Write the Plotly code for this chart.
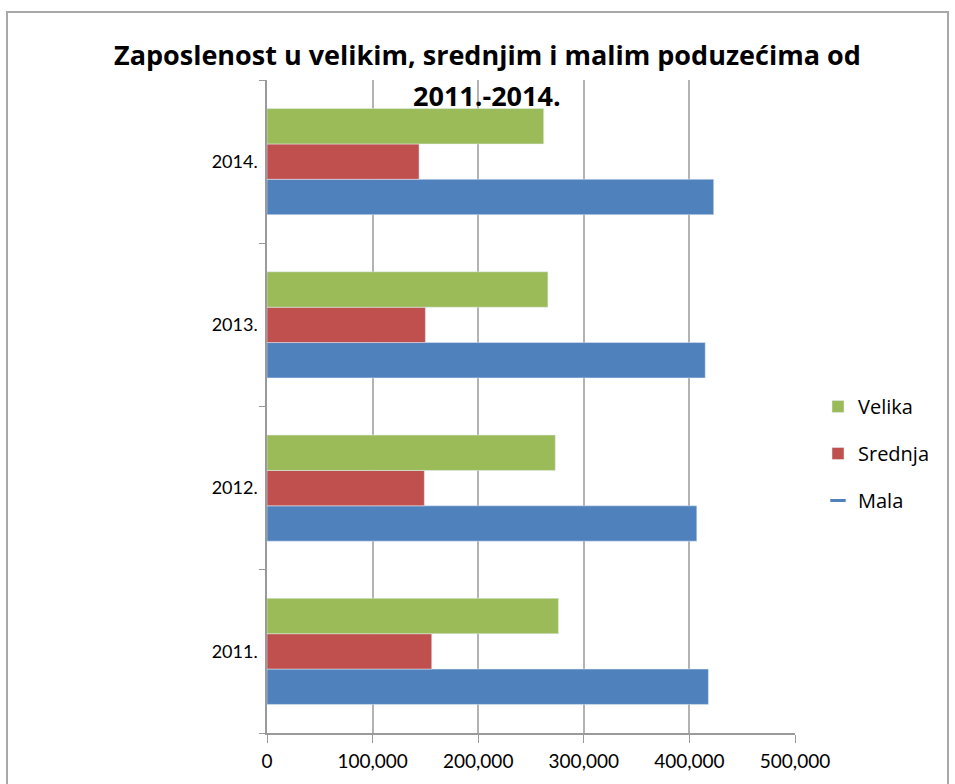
import plotly.graph_objects as go

years = ["2011.", "2012.", "2013.", "2014."]
mala = [418000, 407000, 415000, 423000]
srednja = [156000, 149000, 150000, 144000]
velika = [276000, 273000, 266000, 262000]
x_ticks = [0, 100000, 200000, 300000, 400000, 500000]
x_tick_labels = ["0", "100,000", "200,000", "300,000", "400,000", "500,000"]
title_line1 = "Zaposlenost u velikim, srednjim i malim poduzećima od"
title_line2 = "2011.-2014."

BLUE = "#4F81BD"
RED = "#C0504D"
GREEN = "#9BBB59"
FONT = "Lato, Open Sans, sans-serif"
TFONT = "Open Sans, Lato, sans-serif"

W, H = 955, 784
L, R, T, B = 267, 160, 80, 51
pw, ph = W - L - R, H - T - B

def px_x(p):
    return (p - L) / pw

def px_y(p):
    return (H - B - p) / ph

fig = go.Figure()
fig.add_trace(go.Bar(y=years, x=mala, name="Mala", orientation="h",
                     marker=dict(color=BLUE), showlegend=False))
fig.add_trace(go.Bar(y=years, x=srednja, name="Srednja", orientation="h",
                     marker=dict(color=RED), legendrank=2, legendgroup="s"))
fig.add_trace(go.Bar(y=years, x=velika, name="Velika", orientation="h",
                     marker=dict(color=GREEN), legendrank=1, legendgroup="v"))
# legend entry for "Mala" shown as a short dash (as in the original)
fig.add_trace(go.Scatter(x=[None], y=[None], mode="markers", name="Mala",
                         marker=dict(symbol="line-ew", size=11, color=BLUE,
                                     line=dict(color=BLUE, width=3)),
                         legendrank=3, legendgroup="m"))

fig.update_layout(
    width=W, height=H,
    margin=dict(l=L, r=R, t=T, b=B),
    paper_bgcolor="white", plot_bgcolor="white",
    barmode="group", bargap=0.35, bargroupgap=0,
    font=dict(family=FONT, size=18, color="black"),
    showlegend=True,
    legend=dict(x=px_x(818), y=px_y(387), xanchor="left", yanchor="top",
                font=dict(size=20, family=TFONT), tracegroupgap=18, itemwidth=30,
                bgcolor="rgba(0,0,0,0)"),
    xaxis=dict(range=[0, 500000], tickvals=x_ticks, ticktext=x_tick_labels,
               showgrid=True, gridcolor="#B3B3B3", gridwidth=1.5,
               showline=True, linecolor="#9A9A9A", linewidth=1.5,
               ticks="outside", ticklen=8, tickcolor="#9A9A9A",
               ticklabelstandoff=2, zeroline=False,
               tickfont=dict(size=19)),
    yaxis=dict(categoryorder="array", categoryarray=years,
               showline=True, linecolor="#9A9A9A", linewidth=1.5,
               ticks="outside", ticklen=6, tickcolor="#9A9A9A",
               tickson="boundaries", showgrid=False,
               ticklabelstandoff=4, tickfont=dict(size=18)),
)

fig.add_annotation(text="<b>" + title_line1 + "</b>", xref="paper", yref="paper",
                   x=px_x(487), y=px_y(55), showarrow=False,
                   font=dict(size=27, family=TFONT, color="black"),
                   xanchor="center", yanchor="middle")
fig.add_annotation(text="<b>" + title_line2 + "</b>", xref="paper", yref="paper",
                   x=px_x(487), y=px_y(95), showarrow=False,
                   font=dict(size=27, family=TFONT, color="black"),
                   xanchor="center", yanchor="middle")

fig.add_shape(type="rect", xref="paper", yref="paper",
              x0=px_x(7), x1=px_x(948), y0=px_y(792), y1=px_y(12),
              line=dict(color="#A8A8A8", width=2), layer="below")

fig.write_html("out.html", config={"displayModeBar": False},
               post_script="document.body.style.margin='0';")
